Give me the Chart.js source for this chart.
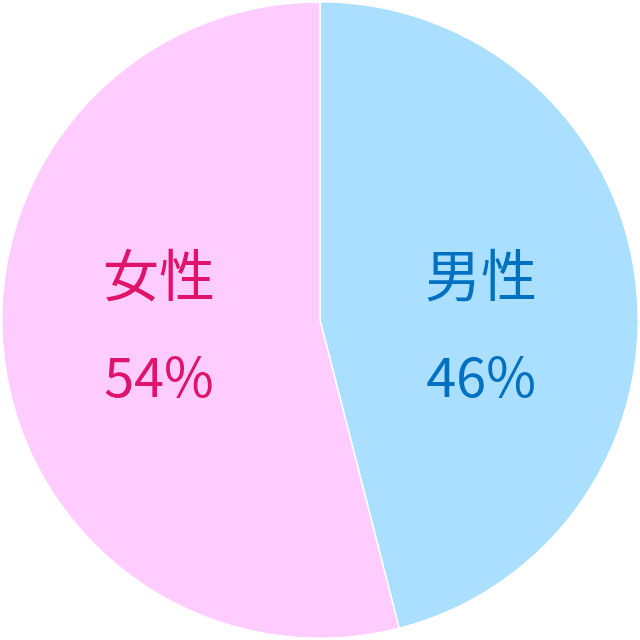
<!DOCTYPE html>
<html><head><meta charset="utf-8">
<script src="https://cdn.jsdelivr.net/npm/chart.js@4/dist/chart.umd.min.js"></script>
<style>html,body{margin:0;padding:0;background:#fff}#w{width:640px;height:640px}</style>
</head><body><div id="w"><canvas id="c"></canvas></div>
<script>
const categories = ['男性', '女性'];
const values = [46, 54];
const sliceColors = ['#aadfff', '#ffccff'];
const textColors = ['#0070c0', '#e0136b'];

const labelPlugin = {
  id: 'labels',
  afterDatasetsDraw(chart) {
    const ctx = chart.ctx;
    const meta = chart.getDatasetMeta(0);
    const total = values.reduce((a, b) => a + b, 0);
    meta.data.forEach((arc, i) => {
      const p = arc.getProps(['x', 'y', 'startAngle', 'endAngle', 'outerRadius']);
      const mid = (p.startAngle + p.endAngle) / 2;
      const r = p.outerRadius * 0.51;
      const x = p.x + Math.cos(mid) * r;
      const y = p.y;
      ctx.save();
      ctx.fillStyle = textColors[i];
      ctx.textAlign = 'center';
      ctx.textBaseline = 'middle';
      ctx.font = '56px "Noto Sans CJK JP"';
      ctx.fillText(categories[i], x, y - 45);
      ctx.font = '54px "Noto Sans CJK JP"';
      ctx.fillText(Math.round(values[i] / total * 100) + '%', x, y + 56);
      ctx.restore();
    });
  }
};

new Chart(document.getElementById('c'), {
  type: 'pie',
  data: {
    labels: categories,
    datasets: [{
      data: values,
      backgroundColor: sliceColors,
      borderColor: '#ffffff',
      borderWidth: 1.5
    }]
  },
  options: {
    responsive: true,
    maintainAspectRatio: false,
    animation: false,
    layout: { padding: 1 },
    plugins: { legend: { display: false }, tooltip: { enabled: false } }
  },
  plugins: [labelPlugin]
});
</script></body></html>
